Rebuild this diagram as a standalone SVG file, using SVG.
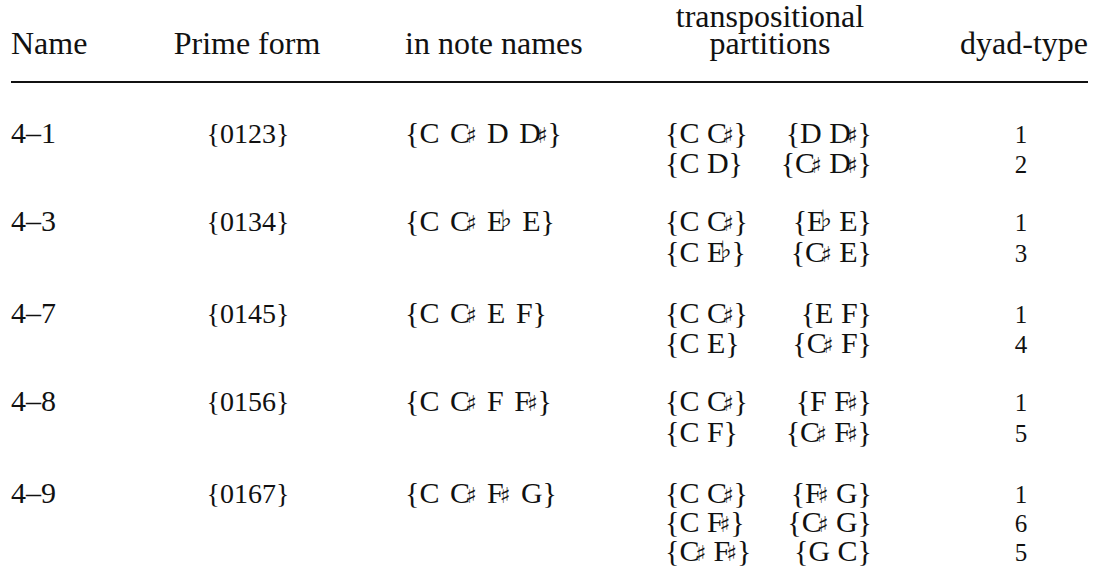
<svg xmlns="http://www.w3.org/2000/svg" width="1096" height="586" viewBox="0 0 1096 586">
<style>
text{font-family:"Liberation Serif","Times New Roman",serif;fill:#111}
.h{font-size:32px}
.t{font-size:30px}
.p{font-size:28px;text-anchor:middle}
.n{word-spacing:3px}
.d{font-size:25px;text-anchor:middle}
.c{text-anchor:middle}
.e{text-anchor:end}
.s{font-family:"DejaVu Sans",sans-serif;font-size:22px;font-weight:bold}
.f{font-family:"DejaVu Sans",sans-serif;font-size:24px}
</style>
<rect width="1096" height="586" fill="#fff"/>
<g id="header">
<text class="h" x="11" y="54">Name</text>
<text class="h c" x="247" y="54">Prime form</text>
<text class="h" x="405" y="54">in note names</text>
<text class="h c" x="770" y="27">transpositional</text>
<text class="h c" x="770" y="54">partitions</text>
<text class="h e" x="1088" y="54">dyad-type</text>
</g>
<g id="rule"><line x1="11" y1="82" x2="1088" y2="82" stroke="#111" stroke-width="2"/></g>
<g id="row-4-1">
<text class="t" x="11" y="143">4–1</text>
<text class="p" x="248" y="143">{0123}</text>
<text class="t n" x="405" y="143">{C C<tspan class="s" dx="-4">♯</tspan> D D<tspan class="s" dx="-4">♯</tspan>}</text>
<text class="t" x="665" y="143">{C C<tspan class="s" dx="-4">♯</tspan>}</text>
<text class="t e" x="872" y="143">{D D<tspan class="s" dx="-4">♯</tspan>}</text>
<text class="t" x="665" y="173">{C D}</text>
<text class="t e" x="872" y="173">{C<tspan class="s" dx="-4">♯</tspan> D<tspan class="s" dx="-4">♯</tspan>}</text>
<text class="d" x="1021" y="143">1</text>
<text class="d" x="1021" y="173">2</text>
</g>
<g id="row-4-3">
<text class="t" x="11" y="231">4–3</text>
<text class="p" x="248" y="231">{0134}</text>
<text class="t n" x="405" y="231">{C C<tspan class="s" dx="-4">♯</tspan> E<tspan class="f" dx="-5" dy="-4">♭</tspan> <tspan dy="4">E}</tspan></text>
<text class="t" x="665" y="231">{C C<tspan class="s" dx="-4">♯</tspan>}</text>
<text class="t e" x="872" y="231">{E<tspan class="f" dx="-5" dy="-4">♭</tspan> <tspan dy="4">E}</tspan></text>
<text class="t" x="665" y="262">{C E<tspan class="f" dx="-5" dy="-4">♭</tspan><tspan dy="4">}</tspan></text>
<text class="t e" x="872" y="262">{C<tspan class="s" dx="-4">♯</tspan> E}</text>
<text class="d" x="1021" y="231">1</text>
<text class="d" x="1021" y="262">3</text>
</g>
<g id="row-4-7">
<text class="t" x="11" y="323">4–7</text>
<text class="p" x="248" y="323">{0145}</text>
<text class="t n" x="405" y="323">{C C<tspan class="s" dx="-4">♯</tspan> E F}</text>
<text class="t" x="665" y="323">{C C<tspan class="s" dx="-4">♯</tspan>}</text>
<text class="t e" x="872" y="323">{E F}</text>
<text class="t" x="665" y="353">{C E}</text>
<text class="t e" x="872" y="353">{C<tspan class="s" dx="-4">♯</tspan> F}</text>
<text class="d" x="1021" y="323">1</text>
<text class="d" x="1021" y="353">4</text>
</g>
<g id="row-4-8">
<text class="t" x="11" y="411">4–8</text>
<text class="p" x="248" y="411">{0156}</text>
<text class="t n" x="405" y="411">{C C<tspan class="s" dx="-4">♯</tspan> F F<tspan class="s" dx="-4">♯</tspan>}</text>
<text class="t" x="665" y="411">{C C<tspan class="s" dx="-4">♯</tspan>}</text>
<text class="t e" x="872" y="411">{F F<tspan class="s" dx="-4">♯</tspan>}</text>
<text class="t" x="665" y="442">{C F}</text>
<text class="t e" x="872" y="442">{C<tspan class="s" dx="-4">♯</tspan> F<tspan class="s" dx="-4">♯</tspan>}</text>
<text class="d" x="1021" y="411">1</text>
<text class="d" x="1021" y="442">5</text>
</g>
<g id="row-4-9">
<text class="t" x="11" y="503">4–9</text>
<text class="p" x="248" y="503">{0167}</text>
<text class="t n" x="405" y="503">{C C<tspan class="s" dx="-4">♯</tspan> F<tspan class="s" dx="-4">♯</tspan> G}</text>
<text class="t" x="665" y="503">{C C<tspan class="s" dx="-4">♯</tspan>}</text>
<text class="t e" x="872" y="503">{F<tspan class="s" dx="-4">♯</tspan> G}</text>
<text class="t" x="665" y="532">{C F<tspan class="s" dx="-4">♯</tspan>}</text>
<text class="t e" x="872" y="532">{C<tspan class="s" dx="-4">♯</tspan> G}</text>
<text class="t" x="665" y="561">{C<tspan class="s" dx="-4">♯</tspan> F<tspan class="s" dx="-4">♯</tspan>}</text>
<text class="t e" x="872" y="561">{G C}</text>
<text class="d" x="1021" y="503">1</text>
<text class="d" x="1021" y="532">6</text>
<text class="d" x="1021" y="561">5</text>
</g>
</svg>
